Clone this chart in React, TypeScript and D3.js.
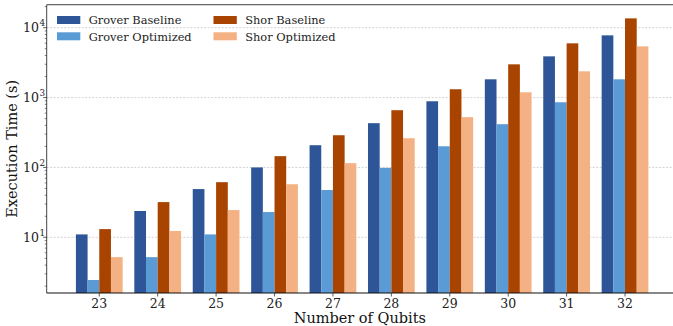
import React from "react";
import * as d3 from "d3";

const qubits = [23, 24, 25, 26, 27, 28, 29, 30, 31, 32];
const groverBaseline = [11, 23.8, 49, 100, 208, 430, 885, 1825, 3890, 7770];
const groverOptimized = [2.45, 5.2, 11, 23, 47.5, 98.6, 201, 416, 857, 1825];
const shorBaseline = [13.1, 31.9, 61.5, 145, 289, 659, 1315, 2990, 5970, 13600];
const shorOptimized = [5.2, 12.3, 24.5, 57.5, 115, 262, 524, 1190, 2375, 5410];
const seriesNames = ["Grover Baseline", "Grover Optimized", "Shor Baseline", "Shor Optimized"];
const seriesColors = ["#2E5597", "#5B9BD5", "#A84300", "#F4B183"];
const majorTicks = [1, 2, 3, 4];

const W = 673;
const H = 326;
const left = 46.7;
const top = 4.7;
const bottom = 293;
const FONT = "'DejaVu Serif', serif";

export default function App() {
  const series = [groverBaseline, groverOptimized, shorBaseline, shorOptimized];
  const x = d3.scaleLinear().domain([22.1, 32.9]).range([left, 677.6]);
  const y = d3.scaleLog().domain([1.595, 21340]).range([bottom, top]);
  const unit = x(1) - x(0);
  const barW = 0.2 * unit;
  const offsets = [-0.3, -0.1, 0.1, 0.3];

  const minor: number[] = [];
  for (let e = 0; e <= 4; e++) {
    for (let m = 2; m <= 9; m++) {
      const v = m * Math.pow(10, e);
      if (v > 1.595 && v < 21340) minor.push(v);
    }
  }

  return (
    <svg width={W} height={H} style={{ position: "fixed", left: 0, top: 0 }} fontFamily={FONT}>
      <rect width={W} height={H} fill="#fff" />
      {majorTicks.map((e) => (
        <line key={"g" + e} x1={left} x2={W} y1={y(Math.pow(10, e))} y2={y(Math.pow(10, e))}
          stroke="#c8c8c8" strokeWidth={0.8} strokeDasharray="2,1.5" />
      ))}
      {series.map((vals, si) =>
        vals.map((v, i) => {
          const cx = x(qubits[i] + offsets[si]);
          return (
            <rect key={si + "-" + i} x={cx - barW / 2} width={barW} y={y(v)} height={bottom - y(v)}
              fill={seriesColors[si]} />
          );
        })
      )}
      {/* spines */}
      <line x1={left} x2={W} y1={top} y2={top} stroke="#666" strokeWidth={1.2} />
      <line x1={left} x2={left} y1={top} y2={bottom} stroke="#444" strokeWidth={1} />
      <line x1={left} x2={W} y1={bottom} y2={bottom} stroke="#111" strokeWidth={1.2} />
      {/* y ticks */}
      {majorTicks.map((e) => {
        const yy = y(Math.pow(10, e));
        return (
          <g key={"yt" + e}>
            <line x1={left - 3.5} x2={left} y1={yy} y2={yy} stroke="#333" strokeWidth={0.8} />
            <text x={39} y={yy + 4.5} fontSize={12.5} textAnchor="end" fill="#222">10</text>
            <text x={39.5} y={yy - 1.5} fontSize={8.8} fill="#222">{e}</text>
          </g>
        );
      })}
      {minor.map((v, i) => (
        <line key={"m" + i} x1={left - 2} x2={left} y1={y(v)} y2={y(v)} stroke="#333" strokeWidth={0.6} />
      ))}
      {/* x ticks */}
      {qubits.map((q) => (
        <g key={"xt" + q}>
          <line x1={x(q)} x2={x(q)} y1={bottom} y2={bottom + 3.5} stroke="#333" strokeWidth={0.8} />
          <text x={x(q)} y={bottom + 14.5} fontSize={12.5} textAnchor="middle" fill="#222">{q}</text>
        </g>
      ))}
      <text x={(left + W) / 2} y={323} fontSize={14.5} textAnchor="middle" fill="#111">Number of Qubits</text>
      <text transform={`translate(16.5,${(top + bottom) / 2}) rotate(-90)`} fontSize={14.5} textAnchor="middle" fill="#111">
        Execution Time (s)
      </text>
      {/* legend */}
      {seriesNames.map((n, i) => {
        const col = i < 2 ? 0 : 1;
        const row = i % 2;
        const lx = 57 + col * 156.5;
        const ly = 16 + row * 16.3;
        return (
          <g key={"l" + i}>
            <rect x={lx} y={ly} width={23.3} height={8} fill={seriesColors[i]} />
            <text x={lx + 31.7} y={ly + 8.3} fontSize={11.4} fill="#222">{n}</text>
          </g>
        );
      })}
    </svg>
  );
}
